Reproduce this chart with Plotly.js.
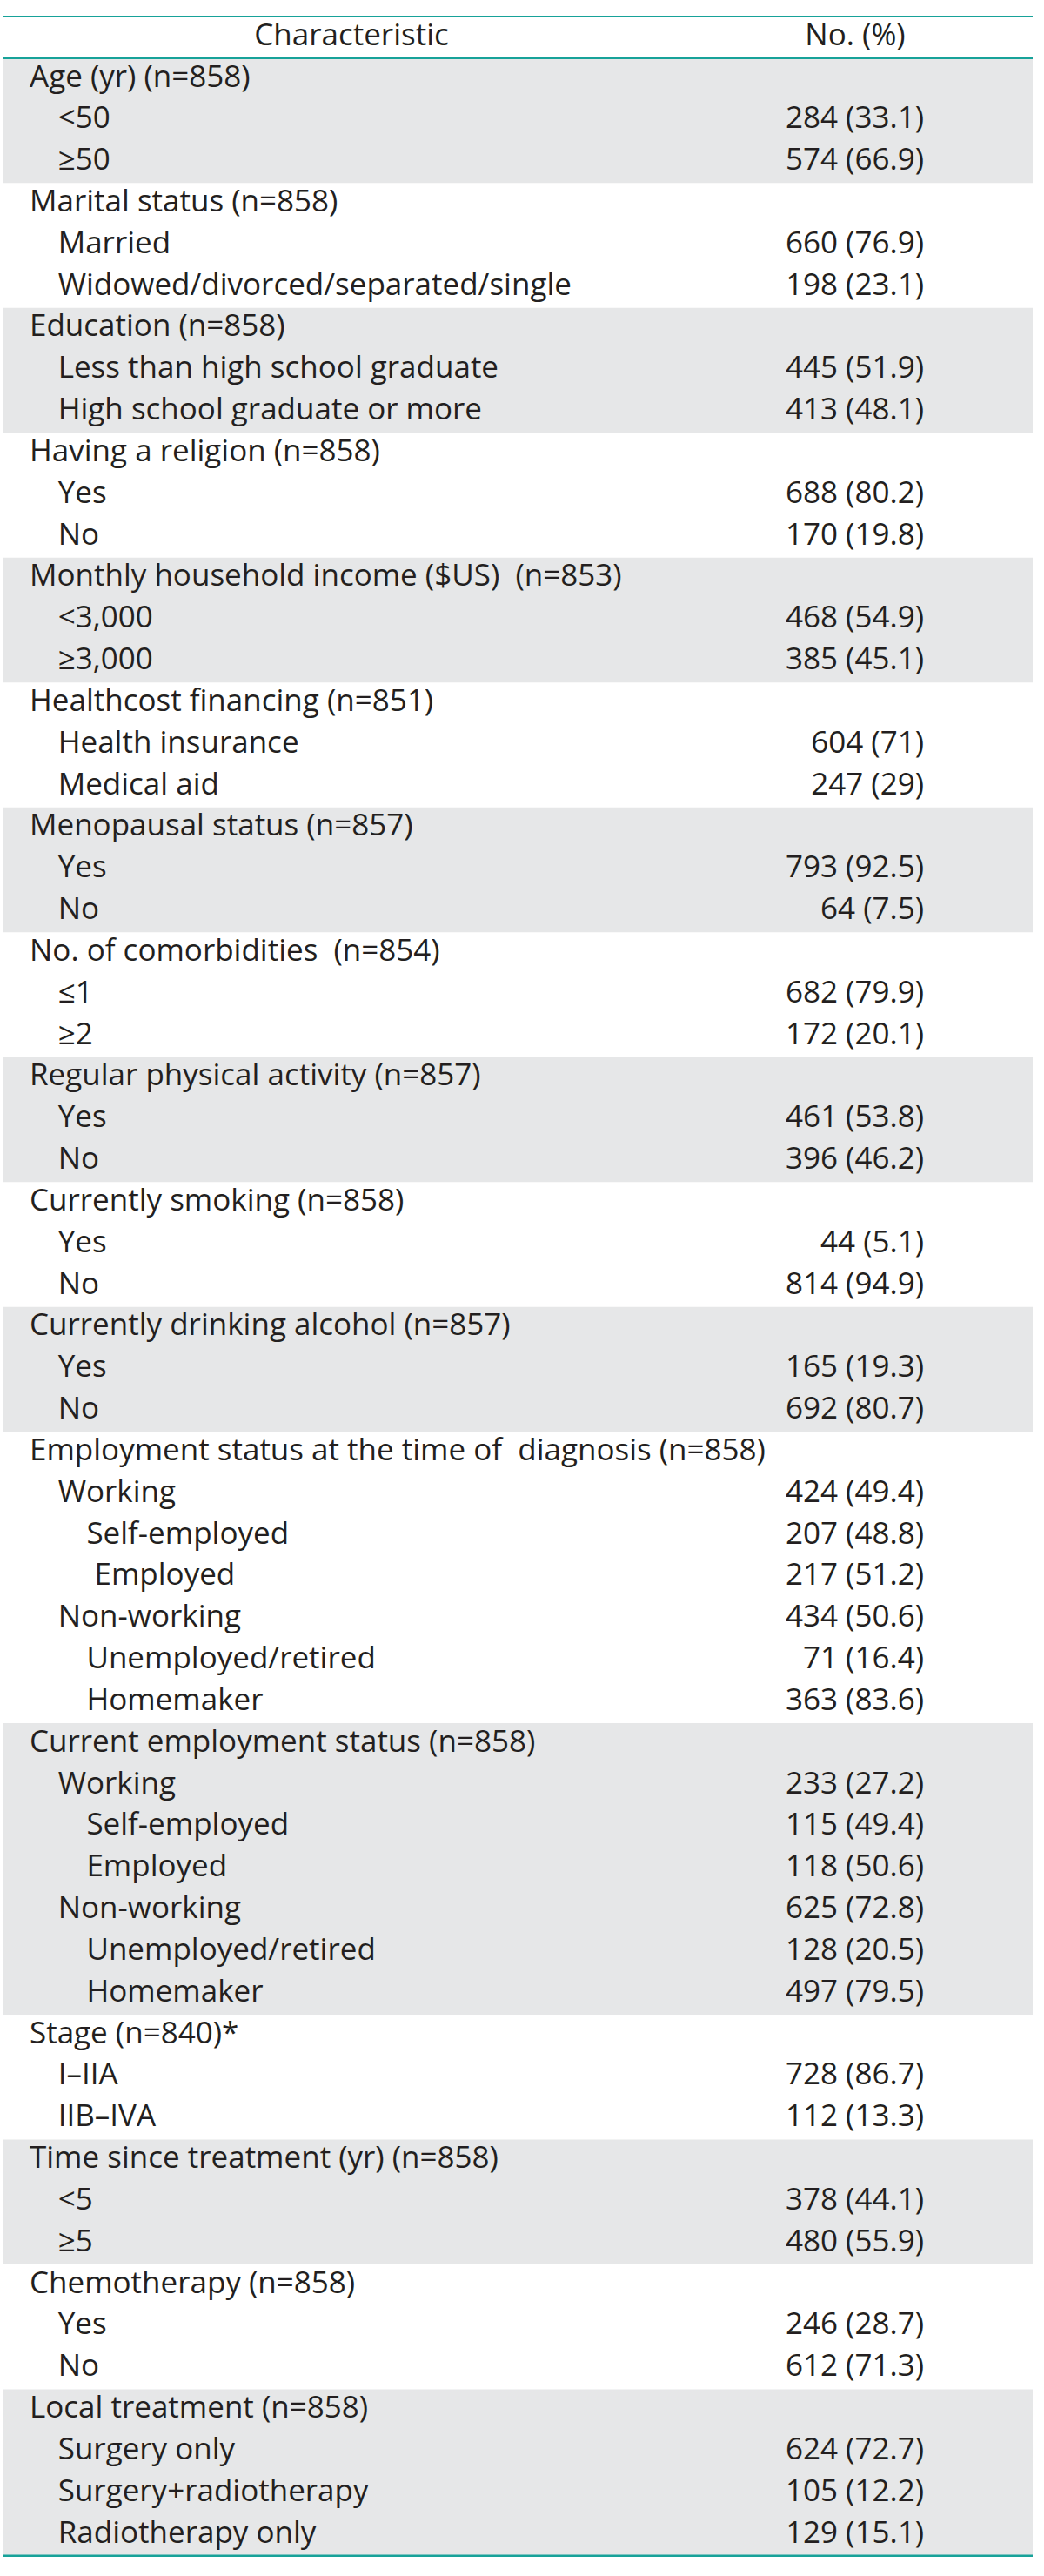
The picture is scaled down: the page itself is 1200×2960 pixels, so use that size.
<!DOCTYPE html>
<html>
<head>
<meta charset="utf-8">
<script src="https://cdn.plot.ly/plotly-3.0.1.min.js"></script>
<style>html,body{margin:0;padding:0;background:#fff;}#chart{width:1200px;height:2960px;}</style>
</head>
<body>
<div id="chart"></div>
<script>
const headers = ['Characteristic', 'No. (%)'];

const characteristic = [
  'Age (yr) (n=858)', '<50', '\u226550',
  'Marital status (n=858)', 'Married', 'Widowed/divorced/separated/single',
  'Education (n=858)', 'Less than high school graduate', 'High school graduate or more',
  'Having a religion (n=858)', 'Yes', 'No',
  'Monthly household income ($US) \u00A0(n=853)', '<3,000', '\u22653,000',
  'Healthcost financing (n=851)', 'Health insurance', 'Medical aid',
  'Menopausal status (n=857)', 'Yes', 'No',
  'No. of comorbidities \u00A0(n=854)', '\u22641', '\u22652',
  'Regular physical activity (n=857)', 'Yes', 'No',
  'Currently smoking (n=858)', 'Yes', 'No',
  'Currently drinking alcohol (n=857)', 'Yes', 'No',
  'Employment status at the time of \u00A0diagnosis (n=858)', 'Working', 'Self-employed', '\u00A0Employed', 'Non-working', 'Unemployed/retired', 'Homemaker',
  'Current employment status (n=858)', 'Working', 'Self-employed', 'Employed', 'Non-working', 'Unemployed/retired', 'Homemaker',
  'Stage (n=840)*', 'I\u2013IIA', 'IIB\u2013IVA',
  'Time since treatment (yr) (n=858)', '<5', '\u22655',
  'Chemotherapy (n=858)', 'Yes', 'No',
  'Local treatment (n=858)', 'Surgery only', 'Surgery+radiotherapy', 'Radiotherapy only'
];

const indentLevel = [
  0,1,1,
  0,1,1,
  0,1,1,
  0,1,1,
  0,1,1,
  0,1,1,
  0,1,1,
  0,1,1,
  0,1,1,
  0,1,1,
  0,1,1,
  0,1,2,2,1,2,2,
  0,1,2,2,1,2,2,
  0,1,1,
  0,1,1,
  0,1,1,
  0,1,1,1
];

const counts = [
  null,284,574,
  null,660,198,
  null,445,413,
  null,688,170,
  null,468,385,
  null,604,247,
  null,793,64,
  null,682,172,
  null,461,396,
  null,44,814,
  null,165,692,
  null,424,207,217,434,71,363,
  null,233,115,118,625,128,497,
  null,728,112,
  null,378,480,
  null,246,612,
  null,624,105,129
];

const percents = [
  null,'33.1','66.9',
  null,'76.9','23.1',
  null,'51.9','48.1',
  null,'80.2','19.8',
  null,'54.9','45.1',
  null,'71','29',
  null,'92.5','7.5',
  null,'79.9','20.1',
  null,'53.8','46.2',
  null,'5.1','94.9',
  null,'19.3','80.7',
  null,'49.4','48.8','51.2','50.6','16.4','83.6',
  null,'27.2','49.4','50.6','72.8','20.5','79.5',
  null,'86.7','13.3',
  null,'44.1','55.9',
  null,'28.7','71.3',
  null,'72.7','12.2','15.1'
];

// ---- layout constants (style) ----
const FONT = {family: '"Open Sans", "Noto Sans", sans-serif', size: 35, color: '#231f20'};
const TEAL = '#17a299';
const GRAY = '#e6e7e8';
const X_LEFT = 4, X_RIGHT = 1187;
const X_TEXT0 = 34, INDENT = 32.7;
const X_NUM_RIGHT = 1062;
const X_HEAD1 = 404, X_HEAD2 = 983;

const rows = characteristic.map((_, i) => i);
const nRows = rows.length;

// group bands
const shapes = [];
let g = -1, start = 0;
const groups = [];
indentLevel.forEach((lv, i) => {
  if (lv === 0) { if (g >= 0) groups.push([start, i - 1]); g++; start = i; }
});
groups.push([start, nRows - 1]);
groups.forEach((gr, k) => {
  if (k % 2 === 0) {
    shapes.push({type: 'rect', xref: 'x', yref: 'y', x0: X_LEFT, x1: X_RIGHT,
      y0: gr[0] - 0.5, y1: gr[1] + 0.5, fillcolor: GRAY, line: {width: 0}, layer: 'below'});
  }
});
// rules
[[-1.5, 2], [-0.5, 2.5], [nRows - 0.5, 2.5]].forEach(([y, w]) => {
  shapes.push({type: 'line', xref: 'x', yref: 'y', x0: X_LEFT, x1: X_RIGHT, y0: y, y1: y,
    line: {color: TEAL, width: w}, layer: 'above'});
});

const labelTrace = {
  type: 'scatter', mode: 'text',
  x: indentLevel.map(lv => X_TEXT0 + lv * INDENT),
  y: rows,
  text: characteristic.map(s => s.replace(/</g, '&lt;')),
  textposition: 'middle right',
  textfont: FONT, hoverinfo: 'skip', cliponaxis: false
};

const valueTrace = {
  type: 'scatter', mode: 'text',
  x: rows.map(() => X_NUM_RIGHT),
  y: rows,
  text: counts.map((c, i) => c === null ? '' : c + ' (' + percents[i] + ')'),
  textposition: 'middle left',
  textfont: FONT, hoverinfo: 'skip', cliponaxis: false
};

const headerTrace = {
  type: 'scatter', mode: 'text',
  x: [X_HEAD1, X_HEAD2], y: [-1, -1],
  text: headers,
  textposition: 'middle center',
  textfont: FONT, hoverinfo: 'skip', cliponaxis: false
};

const pxPerRow = (2936.7 - 19) / (nRows + 1);
const yTop = -1.5 - 19 / pxPerRow;
const yBottom = (nRows - 0.5) + (2960 - 2936.7) / pxPerRow;

const layout = {
  width: 1200, height: 2960,
  margin: {l: 0, r: 0, t: 0, b: 0, pad: 0},
  paper_bgcolor: '#ffffff', plot_bgcolor: '#ffffff',
  showlegend: false,
  xaxis: {range: [0, 1200], visible: false, fixedrange: true},
  yaxis: {range: [yBottom, yTop], visible: false, fixedrange: true},
  shapes: shapes,
  hovermode: false
};

Plotly.newPlot('chart', [labelTrace, valueTrace, headerTrace], layout, {staticPlot: true, displayModeBar: false});
</script>
</body>
</html>
